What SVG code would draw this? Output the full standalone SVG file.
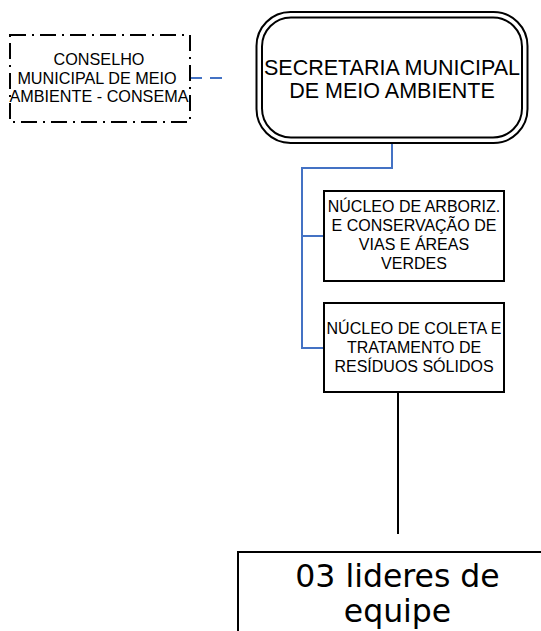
<svg xmlns="http://www.w3.org/2000/svg" width="541" height="631" viewBox="0 0 541 631">
<style>
.t{font-family:"Liberation Sans",Arial,sans-serif;fill:#000;text-anchor:middle}
.s{font-size:16px}
.c{font-size:16.2px}
.box{fill:#fff;stroke:#000;stroke-width:2}
.blue{fill:none;stroke:#4472C4;stroke-width:2}
.v{font-family:"DejaVu Sans",Verdana,sans-serif;font-size:31.5px;text-anchor:middle;fill:#000}
</style>
<rect width="541" height="631" fill="#fff"/>
<g id="connectors">
<path class="blue" d="M190,78 H228" stroke-dasharray="12,8"/>
<path class="blue" d="M392,143 V168 H302 V348 H325 M302,236 H325"/>
<path d="M398,392 V534" fill="none" stroke="#000" stroke-width="2"/>
</g>
<g id="conselho">
<rect x="10" y="35" width="180" height="87" fill="#fff" stroke="#000" stroke-width="2" stroke-dasharray="16,6,2,6"/>
<text class="t c" x="99" y="65">CONSELHO</text>
<text class="t c" x="97" y="84">MUNICIPAL DE MEIO</text>
<text class="t c" x="99" y="102">AMBIENTE - CONSEMA</text>
</g>
<g id="secretaria">
<rect x="256.5" y="12" width="271" height="131" rx="34" fill="#fff" stroke="#000" stroke-width="2"/>
<rect x="262" y="17.5" width="260" height="120" rx="29" fill="none" stroke="#000" stroke-width="2"/>
<text class="t" font-size="21.5" x="392" y="75">SECRETARIA MUNICIPAL</text>
<text class="t" font-size="21.5" x="392" y="98">DE MEIO AMBIENTE</text>
</g>
<g id="nucleo1">
<rect class="box" x="324" y="191" width="180" height="90"/>
<text class="t s" x="414" y="212">NÚCLEO DE ARBORIZ.</text>
<text class="t s" x="414" y="231">E CONSERVAÇÃO DE</text>
<text class="t s" x="414" y="250">VIAS E ÁREAS</text>
<text class="t s" x="414" y="269">VERDES</text>
</g>
<g id="nucleo2">
<rect class="box" x="324" y="303" width="180" height="89"/>
<text class="t s" x="414" y="334">NÚCLEO DE COLETA E</text>
<text class="t s" x="414" y="353">TRATAMENTO DE</text>
<text class="t s" x="414" y="372">RESÍDUOS SÓLIDOS</text>
</g>
<g id="lideres">
<rect class="box" x="238" y="552" width="320" height="100"/>
<text class="v" x="397.5" y="587">03 lideres de</text>
<text class="v" x="397.5" y="622">equipe</text>
</g>
</svg>
